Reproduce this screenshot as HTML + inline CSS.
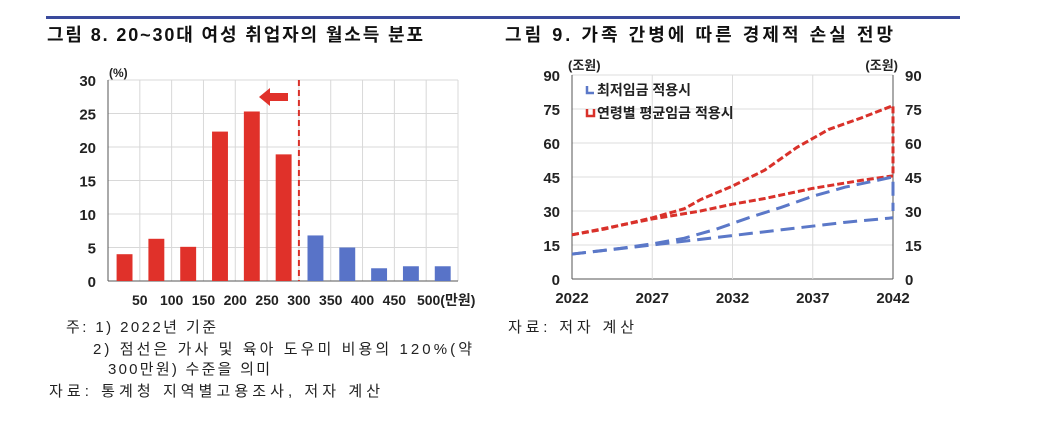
<!DOCTYPE html>
<html><head><meta charset="utf-8"><style>
body{margin:0;background:#fff;width:1037px;height:432px;overflow:hidden;font-family:"Liberation Sans","Noto Sans CJK KR",sans-serif;}
svg text{font-family:"Liberation Sans","Noto Sans CJK KR",sans-serif;}
</style></head><body>
<svg width="1037" height="432">
<rect x="46" y="16" width="914" height="3" fill="#3a4a9c"/>
<text x="47" y="41" font-size="18" font-weight="bold" fill="#111" textLength="376" lengthAdjust="spacing">그림 8. 20~30대 여성 취업자의 월소득 분포</text>
<text x="505" y="41" font-size="18" font-weight="bold" fill="#111" textLength="388" lengthAdjust="spacing">그림 9. 가족 간병에 따른 경제적 손실 전망</text>
<g id="left"></g>
<g id="right"></g>
<g font-size="15" fill="#222">
<text x="66" y="332" textLength="150" lengthAdjust="spacing">주: 1) 2022년 기준</text>
<text x="93" y="354" textLength="379" lengthAdjust="spacing">2) 점선은 가사 및 육아 도우미 비용의 120%(약</text>
<text x="108" y="374" textLength="162" lengthAdjust="spacing">300만원) 수준을 의미</text>
<text x="49" y="396" textLength="331" lengthAdjust="spacing">자료: 통계청 지역별고용조사, 저자 계산</text>
<text x="508" y="332" textLength="126" lengthAdjust="spacing">자료: 저자 계산</text>
</g>
</svg>
<script>
const NS='http://www.w3.org/2000/svg';
function mk(p,t,a){const e=document.createElementNS(NS,t);for(const k in a)e.setAttribute(k,a[k]);p.appendChild(e);return e;}
// Left chart data
const barValues=[4.0,6.3,5.1,22.3,25.3,18.9,6.8,5.0,1.9,2.2,2.2];
const barLabels=['50','100','150','200','250','300','350','400','450','500(만원)'];
const leftTicks=[0,5,10,15,20,25,30];
const cutoffIndex=6;
(function(){
const g=document.getElementById('left');
const x0=108,x1=458,y0=281,y1=80,n=barValues.length,bw=(x1-x0)/n;
const Y=v=>y0-(v/30)*(y0-y1);
for(let i=0;i<=n;i++){const l=mk(g,'line',{x1:x0+i*bw,x2:x0+i*bw,y1:y1,y2:y0,stroke:'#d8d8d8'});

}
leftTicks.forEach(t=>{const l=mk(g,'line',{x1:x0,x2:x1,y1:Y(t),y2:Y(t),stroke:t?'#d8d8d8':'#555'});


const tx=mk(g,'text',{x:96,y:Y(t)+6,'text-anchor':'end','font-size':15,'font-weight':'bold',fill:'#222'});tx.textContent=t;

});
mk(g,'line',{x1:x0,x2:x0,y1:y1,y2:y0,stroke:'#555'});
const u=mk(g,'text',{x:109,y:77,'font-size':12,'font-weight':'bold',fill:'#222'});u.textContent='(%)';


barValues.forEach((v,i)=>{const r=mk(g,'rect',{x:x0+i*bw+bw*0.27,y:Y(v),width:bw*0.5,height:y0-Y(v),fill:i<cutoffIndex?'#e0312a':'#5873c8'});

});
barLabels.forEach((s,i)=>{const t=mk(g,'text',{x:x0+(i+1)*bw+(i==9?20:0),y:305,'text-anchor':'middle','font-size':14,'font-weight':'bold',fill:'#222'});t.textContent=s;

});
const cx=x0+cutoffIndex*bw;
const d=mk(g,'line',{x1:cx,x2:cx,y1:y1,y2:y0,stroke:'#d9312a','stroke-width':2,'stroke-dasharray':'6,4'});


const a=mk(g,'path',{d:'M259 97 L270 88 L270 93 L288 93 L288 101 L270 101 L270 106 Z',fill:'#e0312a'});


})();
// Right chart data
const years=[2022,2024,2027,2029,2030,2032,2034,2035,2036,2037,2038,2040,2042];
const redHigh=[19.5,22,27,31,35,41,48,53,58,62,66,71,76.5];
const redLowYears=[2022,2027,2030,2032,2034,2037,2040,2042];
const redLow=[19.5,26.5,30,33,35.5,40,43.5,45.5];
const blueHighYears=[2022,2025,2027,2029,2031,2033,2035,2037,2039,2042];
const blueHigh=[11,13.5,15.5,18,22,27,31.5,36.5,40.5,45];
const blueLowYears=[2022,2027,2030,2033,2036,2039,2042];
const blueLow=[11,15,17.5,20,22.5,25,27];
const rightTicks=[0,15,30,45,60,75,90];
const xTicks=[2022,2027,2032,2037,2042];
(function(){
const g=document.getElementById('right');
const x0=572,x1=893,y0=279,y1=75;
const X=v=>x0+(v-2022)/20*(x1-x0),Y=v=>y0-v/90*(y0-y1);
rightTicks.forEach(t=>{const l=mk(g,'line',{x1:x0,x2:x1,y1:Y(t),y2:Y(t),stroke:t?'#dcdcdc':'#555'});


[[560,'end'],[905,'start']].forEach(([xx,an])=>{const tx=mk(g,'text',{x:xx,y:Y(t)+6,'text-anchor':an,'font-size':15,'font-weight':'bold',fill:'#222'});tx.textContent=t;

});});
xTicks.forEach(t=>{const l=mk(g,'line',{x1:X(t),x2:X(t),y1:y1,y2:y0,stroke:t==2022||t==2042?'#555':'#dcdcdc'});


const tx=mk(g,'text',{x:X(t),y:303,'text-anchor':'middle','font-size':15,'font-weight':'bold',fill:'#222'});tx.textContent=t;

});
[[568,'(조원)','start'],[898,'(조원)','end']].forEach(([xx,s,an])=>{const t=mk(g,'text',{x:xx,y:70,'text-anchor':an,'font-size':13,'font-weight':'bold',fill:'#222'});t.textContent=s;

});
function line(xs,vs,col,extra,name){let d=xs.map((x,i)=>(i?'L':'M')+X(x)+' '+Y(vs[i])).join(' ');
if(extra!=null)d+=' L'+X(2042)+' '+Y(extra);
const p=mk(g,'path',{d:d,fill:'none',stroke:col,'stroke-width':3,'stroke-dasharray':col=='#d9312a'?'7,3':'14,7'});

}
line(years,redHigh,'#d9312a',45.5,'red-high-line');
line(redLowYears,redLow,'#d9312a',null,'red-low-line');
line(blueHighYears,blueHigh,'#5b78c8',30,'blue-high-line');
line(blueLowYears,blueLow,'#5b78c8',null,'blue-low-line');
const leg=[['#5b78c8','최저임금 적용시',92],['#d9312a','연령별 평균임금 적용시',115]];
leg.forEach(([c,s,y])=>{const r=mk(g,'path',{d:`M587 ${y-6} L587 ${y+1} L594 ${y+1}`+(c=='#d9312a'?` L594 ${y-6}`:''),fill:'none',stroke:c,'stroke-width':2.5});


const t=mk(g,'text',{x:597,y:y+3,'font-size':14,fill:'#222','font-weight':'bold'});t.textContent=s;

});
})();
</script>
</body></html>
